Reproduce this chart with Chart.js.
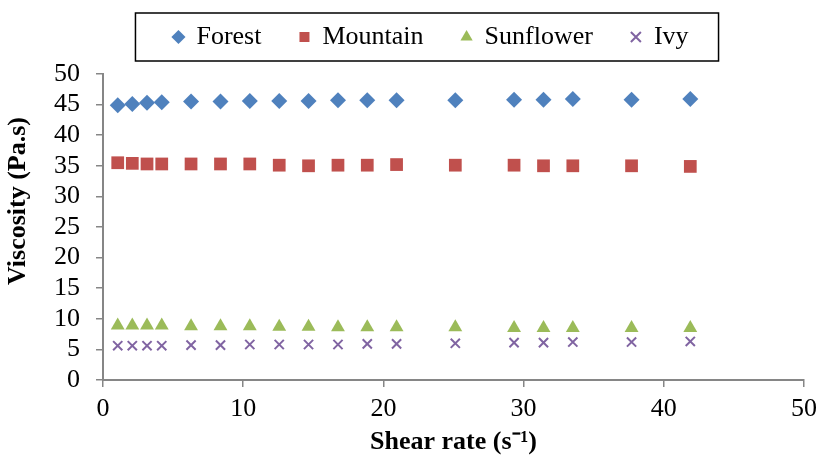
<!DOCTYPE html>
<html>
<head>
<meta charset="utf-8">
<script src="https://cdn.jsdelivr.net/npm/chart.js@4.4.1/dist/chart.umd.min.js"></script>
<style>
  html, body { margin: 0; padding: 0; background: #fff; }
</style>
</head>
<body>
<canvas id="viscChart" width="824" height="463"></canvas>
<script>
const shearRate = [1.05, 2.09, 3.14, 4.19, 6.28, 8.38, 10.47, 12.57, 14.66, 16.76, 18.85, 20.94, 25.13, 29.32, 31.42, 33.51, 37.70, 41.89];
const forest    = [44.9, 45.1, 45.3, 45.4, 45.5, 45.5, 45.6, 45.6, 45.6, 45.7, 45.7, 45.7, 45.7, 45.8, 45.8, 45.9, 45.8, 45.9];
const mountain  = [35.5, 35.4, 35.3, 35.3, 35.3, 35.3, 35.3, 35.1, 35.0, 35.1, 35.1, 35.2, 35.1, 35.1, 35.0, 35.0, 35.0, 34.9];
const sunflower = [8.9, 8.9, 8.9, 8.9, 8.8, 8.8, 8.8, 8.7, 8.7, 8.6, 8.6, 8.6, 8.6, 8.5, 8.5, 8.5, 8.5, 8.5];
const ivy       = [5.6, 5.6, 5.6, 5.6, 5.7, 5.7, 5.8, 5.8, 5.8, 5.8, 5.9, 5.9, 6.0, 6.1, 6.1, 6.2, 6.2, 6.3];

const toPoints = (ys) => ys.map((y, i) => ({ x: shearRate[i], y: y }));

Chart.defaults.font.family = '"Liberation Serif", "Times New Roman", serif';
Chart.defaults.color = '#000';

// box around the legend items, like the excel one
const legendBox = {
  id: 'legendBox',
  afterLayout(chart) {
    const lg = chart.legend;
    lg.left += 24;
    lg.right += 24;
    lg.top -= 14;
    lg.bottom -= 14;
  },
  afterDraw(chart) {
    const boxes = chart.legend.legendHitBoxes;
    if (!boxes || !boxes.length) return;
    const left = Math.min(...boxes.map(b => b.left)) - 38;
    const right = Math.max(...boxes.map(b => b.left + b.width)) + 30;
    const mid = boxes[0].top + boxes[0].height / 2;
    const ctx = chart.ctx;
    ctx.save();
    ctx.strokeStyle = '#000';
    ctx.lineWidth = 1.5;
    ctx.strokeRect(left, mid - 24, right - left, 48);
    ctx.restore();
  }
};

const ctx = document.getElementById('viscChart').getContext('2d');

new Chart(ctx, {
  type: 'scatter',
  data: {
    datasets: [
      {
        label: 'Forest',
        data: toPoints(forest),
        pointStyle: 'rectRot',
        pointRadius: 8,
        backgroundColor: '#4F81BD',
        borderColor: '#4F81BD',
        borderWidth: 0
      },
      {
        label: 'Mountain',
        data: toPoints(mountain),
        pointStyle: 'rect',
        pointRadius: 9,
        backgroundColor: '#C0504D',
        borderColor: '#C0504D',
        borderWidth: 0
      },
      {
        label: 'Sunflower',
        data: toPoints(sunflower),
        pointStyle: 'triangle',
        pointRadius: 8,
        backgroundColor: '#9BBB59',
        borderColor: '#9BBB59',
        borderWidth: 0
      },
      {
        label: 'Ivy',
        data: toPoints(ivy),
        pointStyle: 'crossRot',
        pointRadius: 6.5,
        backgroundColor: '#8064A2',
        borderColor: '#8064A2',
        borderWidth: 2
      }
    ]
  },
  options: {
    responsive: false,
    animation: false,
    layout: { padding: { top: 0, right: 10, left: 0, bottom: 0 } },
    plugins: {
      legend: {
        position: 'top',
        labels: {
          usePointStyle: true,
          boxWidth: 10,
          boxHeight: 10,
          padding: 38,
          font: { size: 26 }
        }
      },
      tooltip: { enabled: false }
    },
    scales: {
      x: {
        type: 'linear',
        min: 0,
        max: 50,
        ticks: { stepSize: 10, font: { size: 26 }, padding: 7 },
        grid: { drawOnChartArea: false, color: '#868686', tickLength: 7, lineWidth: 1.5 },
        border: { color: '#868686', width: 2 },
        title: { display: true, text: 'Shear rate (s⁻¹)', font: { size: 26, weight: 'bold' }, padding: { top: 2, bottom: 5 } },
        afterFit(scale) { scale.height = 83; }
      },
      y: {
        min: 0,
        max: 50,
        ticks: { stepSize: 5, autoSkip: false, font: { size: 26 }, padding: 16 },
        grid: { drawOnChartArea: false, color: '#868686', tickLength: 7, lineWidth: 1.5 },
        border: { color: '#868686', width: 2 },
        // leading spaces push the rotated title up a bit, as in the source
        title: { display: true, text: '\u00A0\u00A0\u00A0\u00A0\u00A0\u00A0\u00A0\u00A0Viscosity (Pa.s)', font: { size: 26, weight: 'bold' }, padding: { top: 3, bottom: 0 } },
        afterFit(scale) { scale.width = 103; }
      }
    }
  },
  plugins: [legendBox]
});
</script>
</body>
</html>
